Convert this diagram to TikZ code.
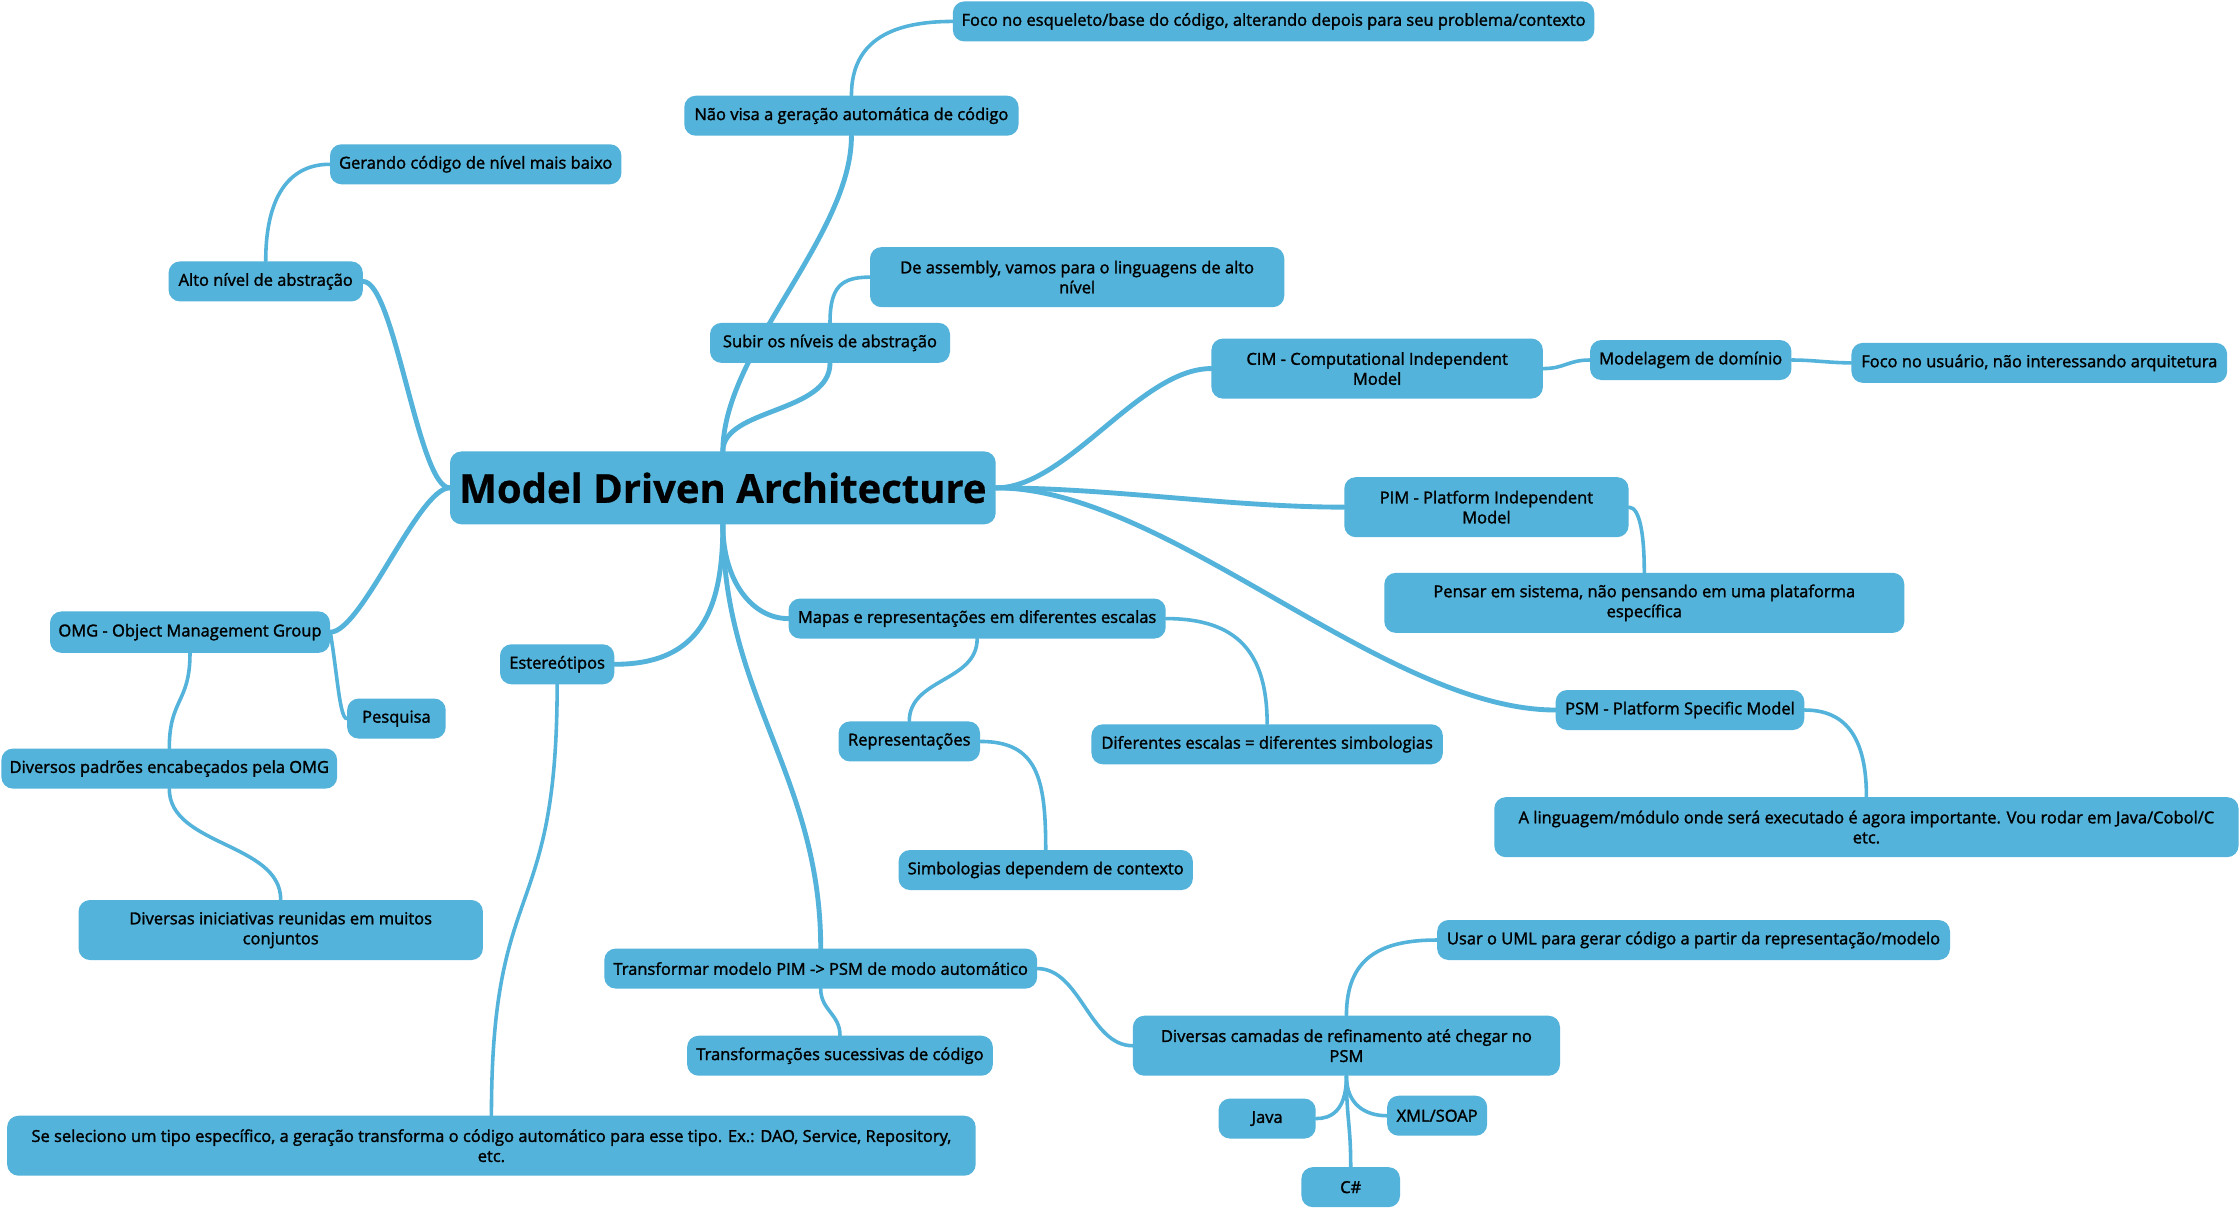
\documentclass[tikz,border=0pt]{standalone}
\usepackage{fontspec}
\setmainfont{Open Sans}
\newfontfamily\semib{Open Sans}[FakeBold=1.6]
\newfontfamily\titlef{Open Sans}[FakeBold=0.6]
\usetikzlibrary{backgrounds}
\definecolor{mblue}{RGB}{84,179,218}
\tikzset{
  box/.style={fill=mblue, rounded corners=8pt, inner sep=0pt, align=center,
    font=\semib\fontsize{11.55}{14}\selectfont, text=black},
  rootbox/.style={box, font=\titlef\bfseries\fontsize{28}{32}\selectfont},
  link/.style={draw=mblue, line width=2.5pt, line cap=round},
  rlink/.style={draw=mblue, line width=3.4pt, line cap=round},
}
\begin{document}
\begin{tikzpicture}[x=1pt,y=-1pt]
\useasboundingbox (0,0) rectangle (1568,847);
\node[rootbox, minimum width=382pt, minimum height=51pt] (root) at (506,341.5) {Model Driven Architecture};
\node[box, minimum width=234pt, minimum height=28pt] (navisa) at (596,81) {Não visa a geração automática de código};
\node[box, minimum width=449pt, minimum height=28pt] (esqueleto) at (891.5,15) {Foco no esqueleto/base do código, alterando depois para seu problema/contexto};
\node[box, minimum width=204pt, minimum height=28pt] (gerando) at (333,115) {Gerando código de nível mais baixo};
\node[box, minimum width=136pt, minimum height=28pt] (alto) at (186,197) {Alto nível de abstração};
\node[box, minimum width=290pt, minimum height=42pt] (assembly) at (754,194) {De assembly, vamos para o linguagens de alto\\nível};
\node[box, minimum width=168pt, minimum height=28pt] (subir) at (581,240) {Subir os níveis de abstração};
\node[box, minimum width=232pt, minimum height=42pt] (cim) at (964,258) {CIM - Computational Independent\\Model};
\node[box, minimum width=141pt, minimum height=28pt] (modelagem) at (1183.5,252) {Modelagem de domínio};
\node[box, minimum width=263pt, minimum height=28pt] (usuario) at (1427.5,254) {Foco no usuário, não interessando arquitetura};
\node[box, minimum width=199pt, minimum height=42pt] (pim) at (1040.5,355) {PIM - Platform Independent\\Model};
\node[box, minimum width=364pt, minimum height=42pt] (pensar) at (1151,422) {Pensar em sistema, não pensando em uma plataforma\\específica};
\node[box, minimum width=174pt, minimum height=28pt] (psm) at (1176,497) {PSM - Platform Specific Model};
\node[box, minimum width=521pt, minimum height=42pt] (linguagem) at (1306.5,579) {A linguagem/módulo onde será executado é agora importante. Vou rodar em Java/Cobol/C\\etc.};
\node[box, minimum width=264pt, minimum height=28pt] (mapas) at (684,433) {Mapas e representações em diferentes escalas};
\node[box, minimum width=99pt, minimum height=28pt] (repr) at (636.5,519) {Representações};
\node[box, minimum width=246pt, minimum height=28pt] (difesc) at (887,521) {Diferentes escalas = diferentes simbologias};
\node[box, minimum width=206pt, minimum height=28pt] (simb) at (732,609) {Simbologias dependem de contexto};
\node[box, minimum width=80pt, minimum height=28pt] (estereo) at (390,465) {Estereótipos};
\node[box, minimum width=196pt, minimum height=29pt] (omg) at (133,442.5) {OMG - Object Management Group};
\node[box, minimum width=69pt, minimum height=28pt] (pesquisa) at (277.5,503) {Pesquisa};
\node[box, minimum width=235pt, minimum height=28pt] (padroes) at (118.5,538) {Diversos padrões encabeçados pela OMG};
\node[box, minimum width=283pt, minimum height=42pt] (iniciativas) at (196.5,651) {Diversas iniciativas reunidas em muitos\\conjuntos};
\node[box, minimum width=303pt, minimum height=28pt] (transf) at (574.5,678) {Transformar modelo PIM -> PSM de modo automático};
\node[box, minimum width=214pt, minimum height=28pt] (sucessivas) at (588,739) {Transformações sucessivas de código};
\node[box, minimum width=678pt, minimum height=42pt] (seleciono) at (344,802) {Se seleciono um tipo específico, a geração transforma o código automático para esse tipo. Ex.: DAO, Service, Repository,\\etc.};
\node[box, minimum width=359pt, minimum height=28pt] (uml) at (1185.5,658) {Usar o UML para gerar código a partir da representação/modelo};
\node[box, minimum width=299pt, minimum height=42pt] (camadas) at (942.5,732) {Diversas camadas de refinamento até chegar no\\PSM};
\node[box, minimum width=68pt, minimum height=28pt] (java) at (887,783) {Java};
\node[box, minimum width=70pt, minimum height=28pt] (xml) at (1006,781) {XML/SOAP};
\node[box, minimum width=69pt, minimum height=28pt] (csharp) at (945.5,831) {C\#};
\begin{scope}[on background layer]
\fill[white] (0,0) rectangle (1568,847);
\draw[rlink] (root.west) .. controls +(-22,0) and +(22,0) .. (alto.east);
\draw[rlink] (root.west) .. controls +(-22,0) and +(22,0) .. (omg.east);
\draw[rlink] (root.north) .. controls +(0,-70) and +(0,70) .. (navisa.south);
\draw[rlink] (root.north) .. controls +(0,-30) and +(0,35) .. (subir.south);
\draw[rlink] (root.east) .. controls +(50,0) and +(-50,0) .. (cim.west);
\draw[rlink] (root.east) .. controls +(80,0) and +(-80,0) .. (pim.west);
\draw[rlink] (root.east) .. controls +(120,0) and +(-120,0) .. (psm.west);
\draw[rlink] (root.south) .. controls +(0,40) and +(-25,0) .. (mapas.west);
\draw[rlink] (root.south) .. controls +(0,60) and +(60,0) .. (estereo.east);
\draw[rlink] (root.south) .. controls +(0,120) and +(0,-120) .. (transf.north);
\draw[link] (subir.north) .. controls +(0,-25) and +(-20,0) .. (assembly.west);
\draw[link] (navisa.north) .. controls +(0,-40) and +(-40,0) .. (esqueleto.west);
\draw[link] (alto.north) .. controls +(0,-50) and +(-25,0) .. (gerando.west);
\draw[link] (cim.east) .. controls +(15,0) and +(-15,0) .. (modelagem.west);
\draw[link] (modelagem.east) .. controls +(15,0) and +(-15,0) .. (usuario.west);
\draw[link] (pim.east) .. controls +(8,0) and +(0,-25) .. (pensar.north);
\draw[link] (psm.east) .. controls +(30,0) and +(0,-40) .. (linguagem.north);
\draw[link] (mapas.south) .. controls +(0,30) and +(0,-30) .. (repr.north);
\draw[link] (mapas.east) .. controls +(50,0) and +(0,-50) .. (difesc.north);
\draw[link] (repr.east) .. controls +(40,0) and +(0,-50) .. (simb.north);
\draw[link] (estereo.south) .. controls +(0,170) and +(0,-170) .. (seleciono.north);
\draw[link] (transf.south) .. controls +(0,15) and +(0,-15) .. (sucessivas.north);
\draw[link] (transf.east) .. controls +(30,0) and +(-30,0) .. (camadas.west);
\draw[link] (camadas.north) .. controls +(0,-40) and +(-40,0) .. (uml.west);
\draw[link] (camadas.south) .. controls +(0,25) and +(10,0) .. (java.east);
\draw[link] (camadas.south) .. controls +(0,20) and +(-15,0) .. (xml.west);
\draw[link] (camadas.south) .. controls +(0,30) and +(0,-30) .. (csharp.north);
\draw[link] (omg.east) .. controls +(5,30) and +(-5,0) .. (pesquisa.west);
\draw[link] (omg.south) .. controls +(0,35) and +(0,-35) .. (padroes.north);
\draw[link] (padroes.south) .. controls +(0,40) and +(0,-40) .. (iniciativas.north);
\end{scope}
\end{tikzpicture}
\end{document}
